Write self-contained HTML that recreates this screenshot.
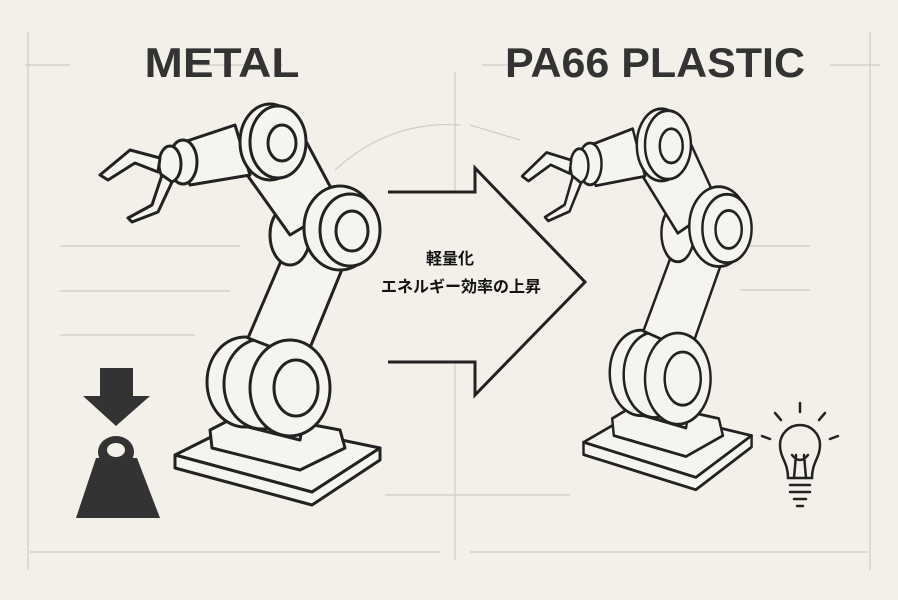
<!DOCTYPE html>
<html><head><meta charset="utf-8"><style>
html,body{margin:0;padding:0;background:#f3f0ea;}
svg{display:block}
</style></head><body>
<svg width="898" height="600" viewBox="0 0 898 600" xmlns="http://www.w3.org/2000/svg">
<rect width="898" height="600" fill="#f3f0ea"/>
<g stroke="#cfcbc3" stroke-width="1.2" fill="none">
<line x1="28" y1="32" x2="28" y2="570"/><line x1="870" y1="32" x2="870" y2="570"/>
<line x1="455" y1="72" x2="455" y2="560"/>
<line x1="25" y1="65" x2="70" y2="65"/><line x1="197" y1="65" x2="258" y2="65"/><line x1="275" y1="65" x2="283" y2="65"/>
<line x1="482" y1="65" x2="510" y2="65"/><line x1="830" y1="65" x2="880" y2="65"/>
<line x1="60" y1="246" x2="240" y2="246"/><line x1="60" y1="291" x2="230" y2="291"/><line x1="60" y1="335" x2="195" y2="335"/>
<line x1="730" y1="246" x2="810" y2="246"/><line x1="740" y1="290" x2="810" y2="290"/>
<line x1="30" y1="552" x2="440" y2="552"/><line x1="470" y1="552" x2="868" y2="552"/>
<line x1="385" y1="495" x2="570" y2="495"/>
<path d="M335 170 Q390 120 460 125"/><path d="M470 125 L520 140"/>
</g>
<g font-family="Liberation Sans, sans-serif" font-weight="bold" fill="#333" font-size="42" text-anchor="middle">
<text x="222" y="77" textLength="155" lengthAdjust="spacingAndGlyphs">METAL</text>
<text x="655" y="77" textLength="300" lengthAdjust="spacingAndGlyphs">PA66 PLASTIC</text>
</g>
<defs>
<g id="robot" stroke="#222" stroke-width="3" fill="#f6f4ef" stroke-linejoin="round">
<polygon points="175,455 245,420 380,448 312,492"/>
<polygon points="175,455 175,468 312,505 380,460 380,448 312,492"/>
<polygon points="210,430 245,412 340,430 345,448 300,470 212,448"/>
<path d="M250 350 L240 425 L300 440 L315 360 Z"/>
<ellipse cx="245" cy="382" rx="38" ry="45"/>
<ellipse cx="262" cy="384" rx="38" ry="45"/>
<path d="M290 240 L345 262 L305 360 L248 338 Z"/>
<ellipse cx="290" cy="388" rx="40" ry="48"/>
<ellipse cx="296" cy="388" rx="22" ry="28"/>
<ellipse cx="290" cy="235" rx="20" ry="30"/>
<path d="M240 165 L290 235 L340 205 L300 130 Z"/>
<ellipse cx="340" cy="228" rx="36" ry="42"/>
<ellipse cx="350" cy="230" rx="30" ry="36"/>
<ellipse cx="352" cy="231" rx="16" ry="20"/>
<path d="M175 145 L235 125 L250 175 L190 185 Z"/>
<ellipse cx="270" cy="142" rx="30" ry="38"/>
<ellipse cx="278" cy="142" rx="28" ry="36"/>
<ellipse cx="282" cy="143" rx="14" ry="18"/>
<ellipse cx="183" cy="162" rx="14" ry="22"/>
<ellipse cx="170" cy="164" rx="11" ry="18"/>
<path d="M160 158 L130 150 L100 175 L108 180 L135 163 L158 172 Z"/>
<path d="M162 175 L152 205 L128 218 L132 222 L158 212 L172 182 Z"/>
</g>
</defs>
<use href="#robot"/>
<use href="#robot" transform="translate(440,10) scale(0.82,0.95)"/>
<path d="M388 192 H475 V168 L585 282 L475 395 V362 H388" fill="#f3f0ea" stroke="#222" stroke-width="3" stroke-linejoin="miter"/>
<g font-family="Liberation Sans, Noto Sans CJK JP, sans-serif" font-weight="bold" font-size="16" fill="#111" text-anchor="middle">
<text x="450" y="264">軽量化</text>
<text x="461" y="292">エネルギー効率の上昇</text>
</g>
<g fill="#333">
<polygon points="100,368 133,368 133,396 150,396 116,426 83,396 100,396"/>
<path d="M98 452 a18 16 0 1 1 36 0 a18 16 0 1 1 -36 0 z M107 450 a9 7 0 1 0 18 0 a9 7 0 1 0 -18 0 z" fill-rule="evenodd"/>
<polygon points="96,458 137,458 160,518 76,518"/>
</g>
<g stroke="#222" stroke-width="2.5" fill="none" stroke-linecap="round">
<path d="M788 478 C788 462 780 458 780 445 A20 20 0 1 1 820 445 C820 458 812 462 812 478 Z"/>
<path d="M794 478 L796 455 M806 478 L804 455 M792 455 Q800 465 808 455"/>
<line x1="790" y1="485" x2="810" y2="485"/><line x1="790" y1="492" x2="810" y2="492"/><line x1="794" y1="499" x2="806" y2="499"/><line x1="797" y1="506" x2="803" y2="506"/>
<line x1="800" y1="403" x2="800" y2="412"/><line x1="775" y1="413" x2="781" y2="420"/><line x1="825" y1="413" x2="819" y2="420"/>
<line x1="762" y1="436" x2="770" y2="439"/><line x1="838" y1="436" x2="830" y2="439"/>
</g>
</svg>
</body></html>
